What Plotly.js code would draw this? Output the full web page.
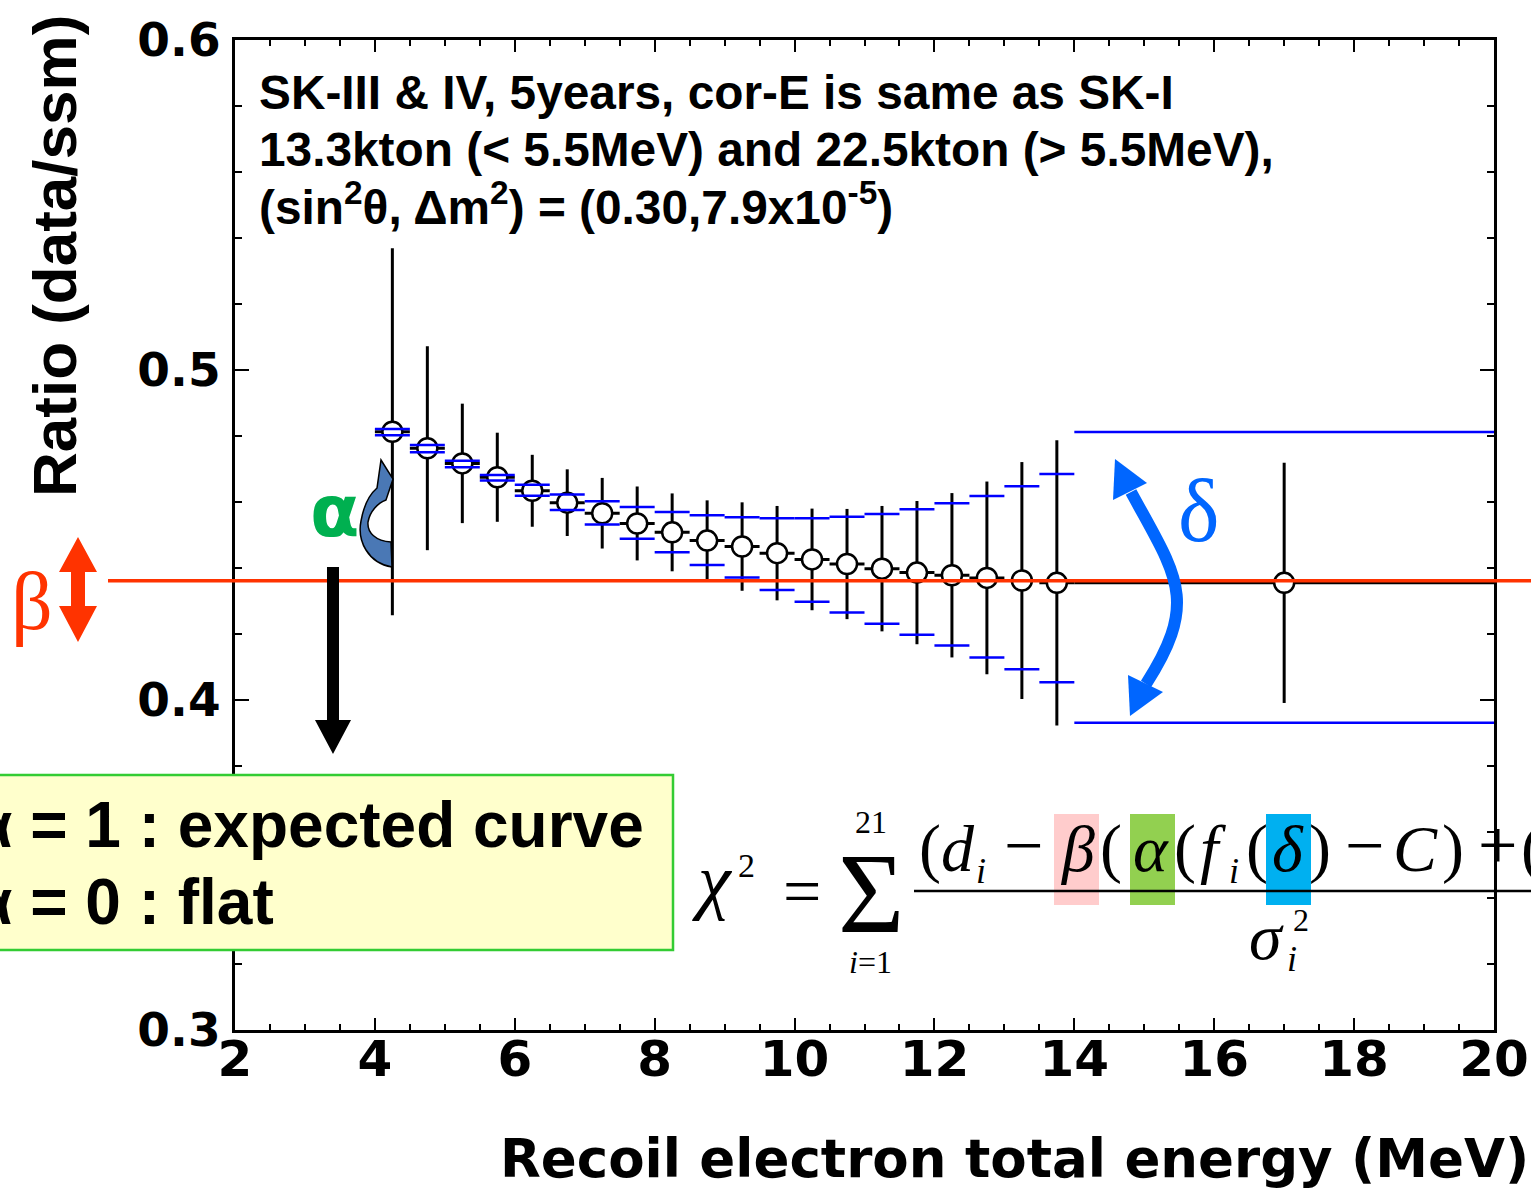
<!DOCTYPE html>
<html>
<head>
<meta charset="utf-8">
<script src="https://cdn.plot.ly/plotly-3.0.1.min.js"></script>
<style>
  html, body { margin: 0; padding: 0; background: #ffffff; }
  #chart { width: 1531px; height: 1196px; }
</style>
</head>
<body>
<div id="chart"></div>
<script>
// ---- Data -----------------------------------------------------------------
// Energy bin centres (MeV) and bin half-widths; the last bin covers 14-20 MeV.
const energy = [4.25, 4.75, 5.25, 5.75, 6.25, 6.75, 7.25, 7.75, 8.25, 8.75, 9.25,
                9.75, 10.25, 10.75, 11.25, 11.75, 12.25, 12.75, 13.25, 13.75, 17];
const binHalfWidth = [0.25, 0.25, 0.25, 0.25, 0.25, 0.25, 0.25, 0.25, 0.25, 0.25, 0.25,
                      0.25, 0.25, 0.25, 0.25, 0.25, 0.25, 0.25, 0.25, 0.25, 3];
// Expected ratio (data/ssm) per bin and its error
const ratio = [0.4813, 0.4763, 0.4717, 0.4675, 0.4634, 0.4598, 0.4566, 0.4535, 0.4508, 0.4483, 0.4465,
               0.4445, 0.4426, 0.4412, 0.4398, 0.4386, 0.4378, 0.4370, 0.4362, 0.4355, 0.4355];
const ratioErr = [0.0556, 0.0309, 0.0181, 0.0135, 0.0109, 0.0101, 0.0107, 0.0112, 0.0118, 0.0122, 0.0134,
                  0.0143, 0.0154, 0.0167, 0.0190, 0.0217, 0.0249, 0.0292, 0.0359, 0.0432, 0.0364];
// Ratio shifted by the energy-correlated systematic (delta) in either direction
const deltaHigh = [0.4821, 0.4773, 0.4725, 0.4682, 0.4652, 0.4623, 0.4602, 0.4585, 0.4570, 0.4560, 0.4554,
                   0.4551, 0.4551, 0.4555, 0.4564, 0.4578, 0.4596, 0.4618, 0.4648, 0.4685, 0.4812];
const deltaLow = [0.4802, 0.4751, 0.4705, 0.4665, 0.4619, 0.4576, 0.4532, 0.4489, 0.4448, 0.4409, 0.4371,
                  0.4333, 0.4298, 0.4265, 0.4231, 0.4198, 0.4165, 0.4129, 0.4093, 0.4054, 0.3931];
// Flat level (beta) of the fit
const flatLevel = 0.4361;

// Axis ticks
const xTicks = [2, 4, 6, 8, 10, 12, 14, 16, 18, 20];
const yTicks = [0.3, 0.4, 0.5, 0.6];

// ---- Page geometry helpers -------------------------------------------------
const W = 1531, H = 1196;
const M = { l: 235, r: 37, t: 40, b: 166 };
const plotW = W - M.l - M.r;
const plotH = H - M.t - M.b;
const fx = px => (px - M.l) / plotW;           // page pixel x -> paper x
const fy = py => (H - M.b - py) / plotH;       // page pixel y -> paper y

// Build a paper-coordinate SVG path from page-pixel commands
function pagePath(cmds, close) {
  const s = cmds.map(c => c[0] + c.slice(1).map((v, i) =>
    (i % 2 === 0 ? fx(v) : fy(v)).toFixed(5)).join(',')).join(' ');
  return close ? s + ' Z' : s;
}

const DESC = { 'Liberation Serif': 0.216, 'Liberation Sans': 0.212, 'DejaVu Sans': 0.236 };
// Text placed by its horizontal anchor and baseline (page pixels)
function textAt(text, xPx, basePx, size, o = {}) {
  const family = o.family || 'Liberation Serif';
  return {
    xref: 'paper', yref: 'paper',
    x: fx(xPx), y: fy(basePx + DESC[family] * size),
    xanchor: o.anchor || 'center', yanchor: 'bottom',
    text: text, showarrow: false, borderpad: 0,
    font: { family: family, size: size, color: o.color || '#000000', weight: o.weight || 'normal' }
  };
}

// Horizontal bin-wide segments for each value
function binSegments(centres, halves, values) {
  const xs = [], ys = [];
  centres.forEach((c, i) => {
    xs.push(c - halves[i], c + halves[i], null);
    ys.push(values[i], values[i], null);
  });
  return { x: xs, y: ys };
}

// ---- Traces ----------------------------------------------------------------
const hi = binSegments(energy, binHalfWidth, deltaHigh);
const lo = binSegments(energy, binHalfWidth, deltaLow);

const traces = [
  {
    type: 'scatter', mode: 'markers', x: energy, y: ratio,
    marker: { symbol: 'circle', size: 20, color: '#ffffff', line: { color: '#000000', width: 2.5 } },
    error_y: { type: 'data', array: ratioErr, visible: true, color: '#000000', thickness: 3, width: 0 },
    error_x: { type: 'data', array: binHalfWidth, visible: true, color: '#000000', thickness: 3, width: 0 },
    hoverinfo: 'x+y'
  },
  {
    type: 'scatter', mode: 'lines', x: hi.x, y: hi.y, connectgaps: false,
    line: { color: '#0000ff', width: 2.5 }, hoverinfo: 'skip'
  },
  {
    type: 'scatter', mode: 'lines', x: lo.x, y: lo.y, connectgaps: false,
    line: { color: '#0000ff', width: 2.5 }, hoverinfo: 'skip'
  }
];

// ---- Decorations -----------------------------------------------------------
const RED = '#ff3300', BLUE = '#0066ff', GREEN = '#00b050';

const shapes = [
  // fitted flat level
  { type: 'line', xref: 'paper', yref: 'y', x0: fx(108), x1: fx(1531), y0: flatLevel, y1: flatLevel,
    line: { color: RED, width: 3.5 }, layer: 'above' },
  // beta: vertical double arrow
  { type: 'path', xref: 'paper', yref: 'paper', layer: 'above', fillcolor: RED, line: { width: 0 },
    path: pagePath([['M', 78, 537], ['L', 97, 572], ['L', 85, 572], ['L', 85, 606], ['L', 97, 606],
                    ['L', 78, 642], ['L', 59, 606], ['L', 71, 606], ['L', 71, 572], ['L', 59, 572]], true) },
  // downward arrow to the alpha box
  { type: 'path', xref: 'paper', yref: 'paper', layer: 'above', fillcolor: '#000000', line: { width: 0 },
    path: pagePath([['M', 327, 567], ['L', 339, 567], ['L', 339, 720], ['L', 351, 720], ['L', 333, 754],
                    ['L', 315, 720], ['L', 327, 720]], true) },
  // alpha: curved arrow
  { type: 'path', xref: 'paper', yref: 'paper', layer: 'above', fillcolor: '#4a78b5',
    line: { color: '#000000', width: 1.5 },
    path: pagePath([['M', 392, 567], ['C', 368, 563, 357, 541, 361, 521], ['C', 364, 504, 370, 494, 377, 488],
                    ['L', 381, 460], ['L', 393, 479], ['L', 386, 500],
                    ['C', 378, 503, 370, 511, 368, 522], ['C', 367, 533, 376, 541, 391, 542]], true) },
  // delta: bowed double arrow
  { type: 'path', xref: 'paper', yref: 'paper', layer: 'above', fillcolor: 'rgba(0,0,0,0)',
    line: { color: BLUE, width: 12 },
    path: pagePath([['M', 1131, 492], ['C', 1176, 575, 1200, 600, 1146, 684]], false) },
  { type: 'path', xref: 'paper', yref: 'paper', layer: 'above', fillcolor: BLUE, line: { width: 0 },
    path: pagePath([['M', 1115, 459], ['L', 1147, 483], ['L', 1113, 500]], true) },
  { type: 'path', xref: 'paper', yref: 'paper', layer: 'above', fillcolor: BLUE, line: { width: 0 },
    path: pagePath([['M', 1130, 716], ['L', 1128, 675], ['L', 1163, 692]], true) },
  // alpha legend box
  { type: 'rect', xref: 'paper', yref: 'paper', layer: 'above', x0: fx(-5), x1: fx(673), y0: fy(950), y1: fy(775),
    fillcolor: '#ffffcc', line: { color: '#33cc33', width: 2.5 } },
  // highlight boxes behind beta, alpha, delta in the chi-square formula
  { type: 'rect', xref: 'paper', yref: 'paper', layer: 'above', x0: fx(1054), x1: fx(1099), y0: fy(905), y1: fy(814),
    fillcolor: '#ffcccc', line: { width: 0 } },
  { type: 'rect', xref: 'paper', yref: 'paper', layer: 'above', x0: fx(1130), x1: fx(1175), y0: fy(905), y1: fy(814),
    fillcolor: '#92d050', line: { width: 0 } },
  { type: 'rect', xref: 'paper', yref: 'paper', layer: 'above', x0: fx(1266), x1: fx(1311), y0: fy(905), y1: fy(814),
    fillcolor: '#00b0f0', line: { width: 0 } },
  // fraction bar
  { type: 'line', xref: 'paper', yref: 'paper', layer: 'above', x0: fx(914), x1: fx(1531), y0: fy(891), y1: fy(891),
    line: { color: '#000000', width: 2.5 } }
];

const SANS = 'Liberation Sans', WIDE = 'DejaVu Sans';
const annotations = [
  // run description
  textAt('SK-III & IV, 5years, cor-E is same as SK-I', 258, 110, 47.8, { family: SANS, anchor: 'left', weight: 'bold' }),
  textAt('13.3kton (< 5.5MeV) and 22.5kton (> 5.5MeV),', 258, 167, 47.8, { family: SANS, anchor: 'left', weight: 'bold' }),
  textAt('(sin<sup>2</sup>θ, Δm<sup>2</sup>) = (0.30,7.9x10<sup>-5</sup>)', 258, 225, 47.8, { family: SANS, anchor: 'left', weight: 'bold' }),
  // parameter labels
  textAt('α', 334, 537, 72, { family: WIDE, color: GREEN, weight: 'bold' }),
  textAt('β', 32, 630, 82, { family: 'Liberation Serif', color: RED }),
  textAt('δ', 1198, 542, 88, { family: 'Liberation Serif', color: BLUE }),
  // alpha legend
  textAt('α = 1 : expected curve', -28, 848, 64, { family: SANS, anchor: 'left', weight: 'bold' }),
  textAt('α = 0 : flat', -28, 925, 64, { family: SANS, anchor: 'left', weight: 'bold' }),
  // axis titles
  textAt('Recoil electron total energy (MeV)', 1530, 1177, 53, { family: WIDE, anchor: 'right', weight: 'bold' }),
  {
    xref: 'paper', yref: 'paper', x: fx(55), y: fy(256), xanchor: 'center', yanchor: 'middle',
    text: 'Ratio (data/ssm)', textangle: -90, showarrow: false, borderpad: 0,
    font: { family: SANS, size: 62, color: '#000000', weight: 'bold' }
  }
];

// chi-square definition, glyph by glyph: [text, centre x, baseline, size]
const formula = [
  ['<i>χ</i>', 712, 906, 74], ['2', 746, 878, 34], ['=', 802, 915, 68],
  ['Σ', 871, 933, 114], ['21', 871, 834, 32], ['<i>i</i>=1', 870, 974, 32],
  ['(', 930, 872, 66], ['<i>d</i>', 958, 872, 66], ['<i>i</i>', 981, 884, 36],
  ['−', 1023, 870, 70], ['<i>β</i>', 1077, 872, 66], ['(', 1111, 872, 66],
  ['<i>α</i>', 1151, 872, 66], ['(', 1185, 872, 66], ['<i>f</i>', 1213, 872, 66], ['<i>i</i>', 1234, 884, 36],
  ['(', 1257, 872, 66], ['<i>δ</i>', 1288, 872, 66], [')', 1320, 872, 66], ['−', 1364, 870, 70],
  ['<i>C</i>', 1415, 872, 66], [')', 1453, 872, 66], ['+', 1497, 870, 70], ['(', 1532, 872, 66],
  ['<i>σ</i>', 1266, 960, 66], ['2', 1301, 932, 32], ['<i>i</i>', 1292, 972, 36]
];
formula.forEach(f => annotations.push(textAt(f[0], f[1], f[2], f[3], { family: 'Liberation Serif' })));

// ---- Layout ----------------------------------------------------------------
const axisCommon = {
  showline: true, linecolor: '#000000', linewidth: 3, mirror: 'allticks',
  ticks: 'inside', tickcolor: '#000000', tickwidth: 2,
  showgrid: false, zeroline: false
};

const layout = {
  width: W, height: H,
  margin: M,
  paper_bgcolor: '#ffffff', plot_bgcolor: '#ffffff',
  showlegend: false,
  xaxis: Object.assign({}, axisCommon, {
    range: [2, 20], tickmode: 'array', tickvals: xTicks, ticktext: xTicks.map(String),
    ticklen: 12, ticklabelstandoff: -17,
    tickfont: { family: WIDE, size: 50, color: '#000000', weight: 'bold' },
    minor: { dtick: 0.5, ticklen: 6, tickwidth: 2, tickcolor: '#000000', ticks: 'inside' }
  }),
  yaxis: Object.assign({}, axisCommon, {
    range: [0.3, 0.6], tickmode: 'array', tickvals: yTicks, ticktext: yTicks.map(v => v.toFixed(1)),
    ticklen: 14, ticklabelstandoff: 2,
    tickfont: { family: WIDE, size: 47, color: '#000000', weight: 'bold' },
    minor: { dtick: 0.02, ticklen: 7, tickwidth: 2, tickcolor: '#000000', ticks: 'inside' }
  }),
  shapes: shapes,
  annotations: annotations
};

Plotly.newPlot('chart', traces, layout, { staticPlot: true, displayModeBar: false });
</script>
</body>
</html>
